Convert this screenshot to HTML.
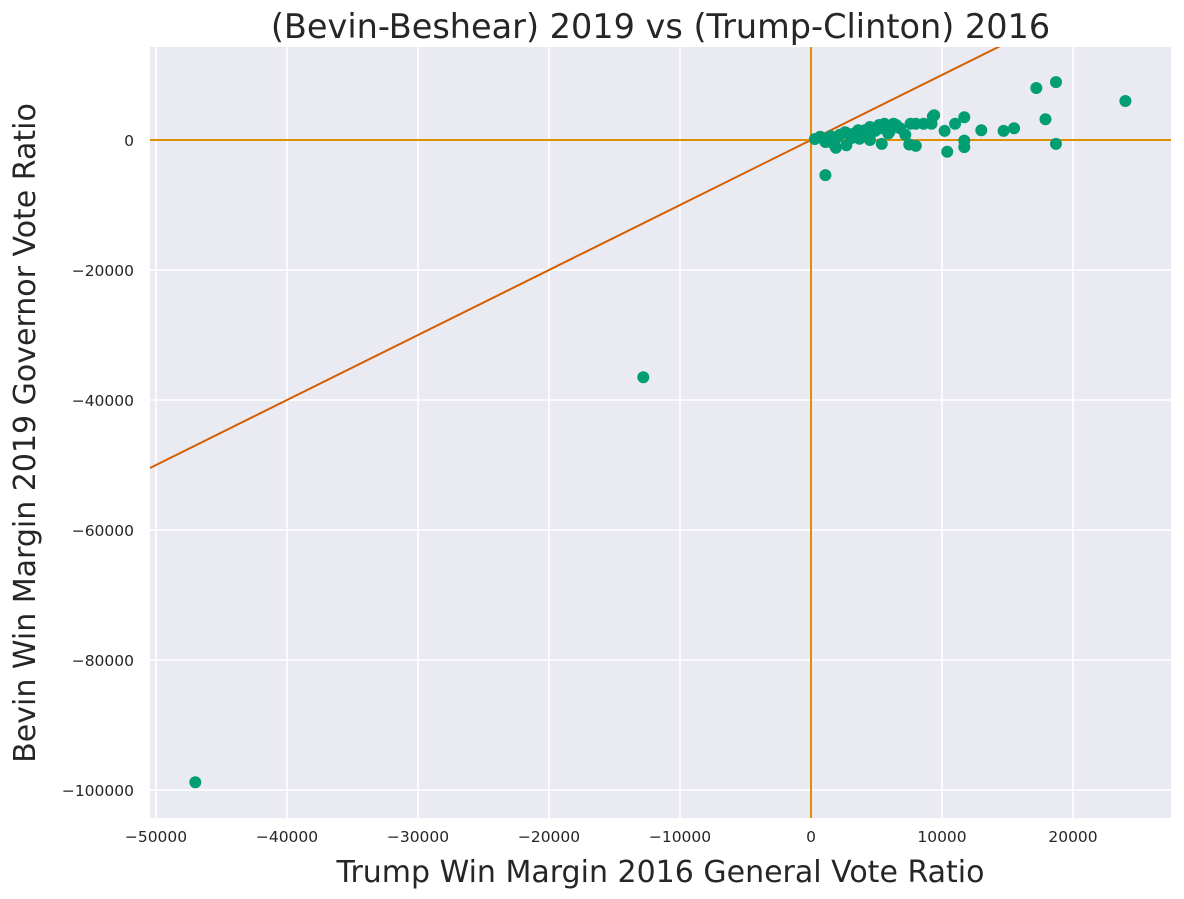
<!DOCTYPE html>
<html><head><meta charset="utf-8"><style>
html,body{margin:0;padding:0;background:#fff;}
svg{display:block;font-family:"DejaVu Sans","Liberation Sans",sans-serif;}
</style></head><body>
<svg id="chart" width="1184" height="899"></svg>
<script>
const xTicks=[-50000,-40000,-30000,-20000,-10000,0,10000,20000];
const yTicks=[0,-20000,-40000,-60000,-80000,-100000];
const xTickLabels=["\u221250000","\u221240000","\u221230000","\u221220000","\u221210000","0","10000","20000"];
const yTickLabels=["0","\u221220000","\u221240000","\u221260000","\u221280000","\u2212100000"];
const trumpMargin=[18700,17200,24000,17900,15500,14700,13000,11700,11000,10200,11700,11700,10400,18700,9400,9200,8000,8600,7600,8000,7500,7200,6800,6300,5600,5200,4500,5400,3900,3600,2900,2700,1900,1100,1500,700,300,-12800,-47000,2200,2600,3100,4100,4900,6000,6500,4500,3700,1100,1600,5300,5900,9300,2000,3300,1200];
const bevinMargin=[8900,8000,6000,3200,1800,1400,1500,3500,2500,1400,-100,-1100,-1800,-600,3800,2500,2500,2500,2500,-900,-700,800,1800,2500,2500,2300,2000,-600,1100,1500,900,-800,-1200,-5400,600,500,150,-36500,-98800,800,1200,300,1500,1400,1300,2300,0,200,-300,-400,1800,1000,3600,400,1000,0];
const X0=811,XS=0.0131,Y0=140,YS=0.0065;
const L=150,R=1171,T=47,B=818;
const xp=v=>X0+v*XS, yp=v=>Y0-v*YS;
const NS="http://www.w3.org/2000/svg", svg=document.getElementById('chart');
function mk(t,a,p){const e=document.createElementNS(NS,t);for(const k in a)e.setAttribute(k,a[k]);(p||svg).appendChild(e);return e;}
const bg=mk('rect',{x:L,y:T,width:R-L,height:B-T,fill:'#eaeaf2'});


xTicks.forEach((v,i)=>{
 const g=mk('line',{x1:xp(v),x2:xp(v),y1:T,y2:B,stroke:'#fff','stroke-width':1.6});
 
 
 const t=mk('text',{x:xp(v),y:B+24,'text-anchor':'middle','font-size':15.5,fill:'#262626'});t.textContent=xTickLabels[i];
 
 
});
yTicks.forEach((v,i)=>{
 const g=mk('line',{x1:L,x2:R,y1:yp(v),y2:yp(v),stroke:'#fff','stroke-width':1.6});
 
 
 const t=mk('text',{x:L-16,y:yp(v)+6,'text-anchor':'end','font-size':15.5,fill:'#262626'});t.textContent=yTickLabels[i];
 
 
});
const xmin=(L-X0)/XS, xmax=(R-X0)/XS;
const d=mk('line',{x1:xp(xmin),y1:yp(xmin),x2:xp(xmax),y2:yp(xmax),stroke:'#d55e00','stroke-width':2});


mk('rect',{x:0,y:0,width:1184,height:T,fill:'#fff'});
mk('rect',{x:R,y:0,width:13,height:899,fill:'#fff'});
const h=mk('line',{x1:L,x2:R,y1:yp(0),y2:yp(0),stroke:'#de8f05','stroke-width':2});


const vl=mk('line',{x1:xp(0),x2:xp(0),y1:T,y2:B,stroke:'#de8f05','stroke-width':2});


trumpMargin.forEach((v,i)=>{
 const c=mk('circle',{cx:xp(v),cy:yp(bevinMargin[i]),r:6,fill:'#029e73'});
 
 
});
const tt=mk('text',{x:(L+R)/2,y:38,'text-anchor':'middle','font-size':33.5,fill:'#262626'});tt.textContent='(Bevin-Beshear) 2019 vs (Trump-Clinton) 2016';


const xl=mk('text',{x:(L+R)/2,y:882,'text-anchor':'middle','font-size':30,fill:'#262626'});xl.textContent='Trump Win Margin 2016 General Vote Ratio';


const yl=mk('text',{x:0,y:0,'text-anchor':'middle','font-size':30,fill:'#262626',transform:'translate(35,433) rotate(-90)'});yl.textContent='Bevin Win Margin 2019 Governor Vote Ratio';


</script>
</body></html>
